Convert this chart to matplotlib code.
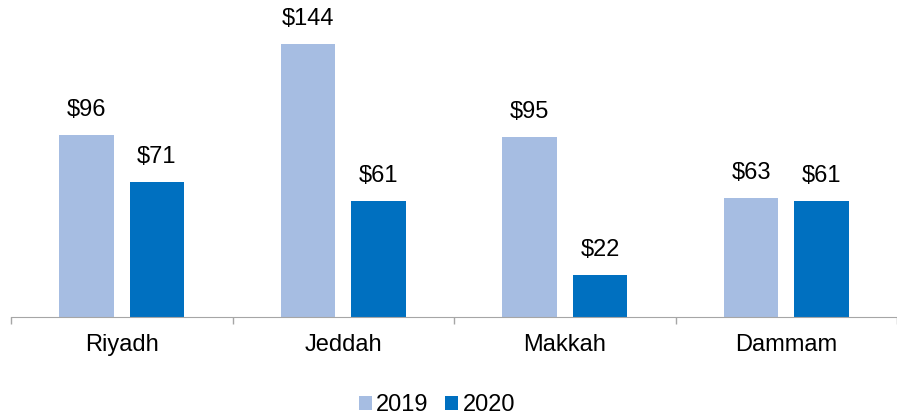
import numpy as np
import matplotlib.pyplot as plt

cities = ["Riyadh", "Jeddah", "Makkah", "Dammam"]
vals_2019 = [96, 144, 95, 63]
vals_2020 = [71, 61, 22, 61]
years = ["2019", "2020"]
colors = ["#A6BDE2", "#0070C0"]

plt.rcParams['font.family'] = ['Liberation Sans', 'DejaVu Sans']

fig = plt.figure(figsize=(8.97, 4.18), dpi=100)
ax = fig.add_axes([11 / 897, 101 / 418, 886 / 897, 297 / 418])

x = np.arange(len(cities))
w = 0.246
off = 0.159
b1 = ax.bar(x - off, vals_2019, w, color=colors[0], label=years[0])
b2 = ax.bar(x + off, vals_2020, w, color=colors[1], label=years[1])

for bars in (b1, b2):
    for r in bars:
        ax.annotate("$%d" % r.get_height(), (r.get_x() + r.get_width() / 2, r.get_height()),
                    xytext=(0, 10), textcoords="offset points",
                    ha="center", va="bottom", fontsize=17)

ax.set_xlim(-0.5, -0.5 + 886 / 223.4)
ax.set_ylim(0, 156.6)
ax.set_yticks([])
ax.set_xticks(x)
ax.set_xticklabels(cities, fontsize=17)
ax.tick_params(axis="x", which="major", length=0, pad=12)
ax.set_xticks(np.arange(-0.5, 4, 1), minor=True)
ax.tick_params(axis="x", which="minor", length=5, color="#A6A6A6", width=1)
for s in ["top", "right", "left"]:
    ax.spines[s].set_visible(False)
ax.spines["bottom"].set_color("#A6A6A6")

fig.legend(loc="center", bbox_to_anchor=(437 / 897, 13 / 418), ncol=2, frameon=False,
           fontsize=17, handlelength=0.55, handleheight=0.55, handletextpad=0.2,
           columnspacing=0.7)

fig.savefig("out.png", dpi=100)
